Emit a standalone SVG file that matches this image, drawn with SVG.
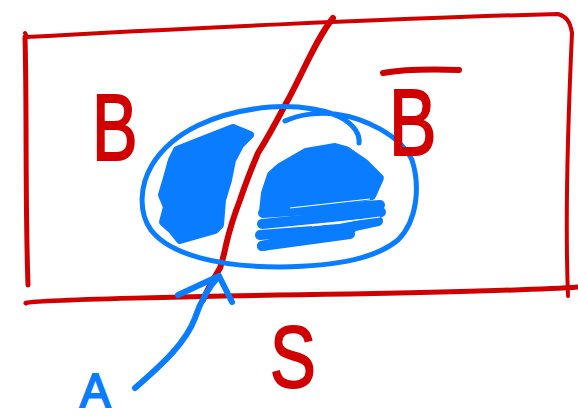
<svg xmlns="http://www.w3.org/2000/svg" width="578" height="418" viewBox="0 0 578 418">
<style>
.red{fill:none;stroke:#d00000;stroke-linecap:round;stroke-linejoin:round}
.blue{fill:none;stroke:#0a7cff;stroke-linecap:round;stroke-linejoin:round}
.bfill{fill:#0a7cff;stroke:#0a7cff;stroke-width:8;stroke-linejoin:round}
.lbl{font-family:"Liberation Sans",Arial,sans-serif}
</style>
<rect width="578" height="418" fill="#fff"/>
<g id="sample-space">
<path class="red" stroke-width="4" d="M25,33 L27,37 C150,30 400,18 558,14 C565,16 570,20 572,33"/>
<path class="red" stroke-width="5" d="M25,37 C27,110 25,200 28,285"/>
<path class="red" stroke-width="4" d="M572,33 C568,120 565,220 568,296"/>
<path class="red" stroke-width="5" d="M26,303 C30,300 200,296 350,294 C450,292 540,290 578,287"/>
</g>
<g id="partition">
<path class="red" stroke-width="6" d="M333,18 C315,40 300,80 284,107 C272,130 263,145 258,153 C250,172 244,188 240,200 C233,218 229,232 226,245 C224,255 222,262 220,268 C214,278 208,288 203,300"/>
</g>
<g id="set-A">
<path class="blue" stroke-width="5" d="M285,121 C300,114 320,112 335,114 C365,118 400,135 412,160 C420,185 418,220 398,240 C376,258 340,266 280,267 C220,267 170,255 151,230 C138,212 140,185 152,165 C172,132 215,112 270,107 C300,105 330,110 345,120 C355,127 360,135 359,143"/>
<path class="bfill" d="M177,150 L210,137 L233,128 L250,135 L240,145 L232,160 L228,180 L222,200 L220,225 L215,230 L180,240 L172,230 L163,222 L167,207 L162,195 L167,178 L172,160 Z"/>
<path class="bfill" d="M306,152 L335,147 L346,150 L365,163 L380,178 L372,196 L300,205 L263,212 L265,193 L271,175 L280,167 Z"/>
<g class="blue" stroke-width="10">
<path d="M263,213 L380,205"/>
<path d="M262,224 L381,212"/>
<path d="M260,235 L352,228"/>
<path d="M262,246 L378,221"/>
<path d="M262,246 L350,234"/>
</g>
<path d="M290,208 L370,199 M312,226 L380,217" stroke="#fff" stroke-width="1.2" fill="none"/>
</g>
<g id="connectors">
<path class="blue" stroke-width="6" d="M135,388 C165,362 186,342 195,318 C200,303 206,290 219,276"/>
<path class="blue" stroke-width="6" d="M178,295 L219,276 L232,302"/>
</g>
<g id="labels">
<text class="lbl" font-size="95" fill="#d00000" stroke="#d00000" stroke-width="2" transform="translate(92,160) scale(0.72,1)">B</text>
<text class="lbl" font-size="95" fill="#d00000" stroke="#d00000" stroke-width="2" transform="translate(389,155) scale(0.75,1)">B</text>
<path class="red" stroke-width="6" d="M383,73 C400,70 430,69 459,70"/>
<text class="lbl" font-size="88" fill="#d00000" stroke="#d00000" stroke-width="2" transform="translate(270,387) scale(0.78,1)">S</text>
<text class="lbl" font-size="48" fill="#0a7cff" stroke="#0a7cff" stroke-width="2" transform="translate(80,407) scale(0.95,1)">A</text>
</g>
</svg>
